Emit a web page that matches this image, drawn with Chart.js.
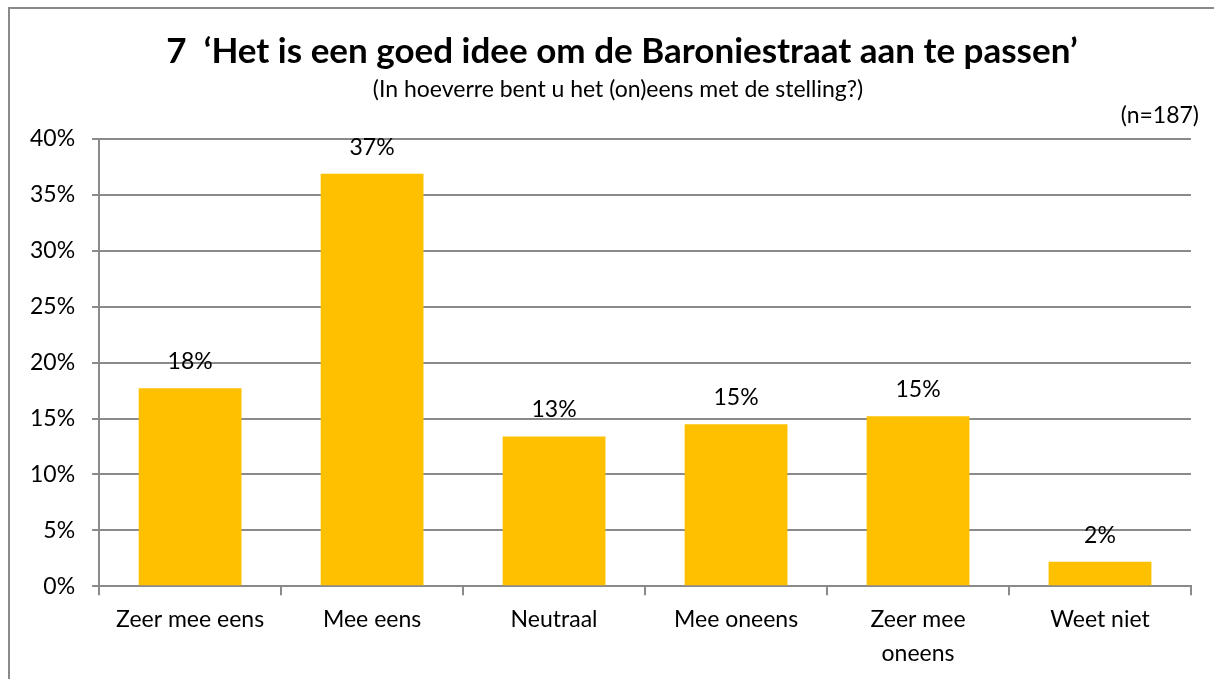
<!DOCTYPE html>
<html>
<head>
<meta charset="utf-8">
<script src="https://cdn.jsdelivr.net/npm/chart.js@4/dist/chart.umd.min.js"></script>
<style>
  body { margin: 0; background: #fff; overflow: hidden; }
  #frame { position: absolute; left: 8px; top: 7px; width: 1300px; height: 800px; border: 2px solid #8a8a8a; }
  #chart { position: absolute; left: 0; top: 0; }
</style>
</head>
<body>
<div id="frame"></div>
<canvas id="chart" width="1214" height="679"></canvas>
<script>
// data
const categories = ["Zeer mee eens", "Mee eens", "Neutraal", "Mee oneens", ["Zeer mee", "oneens"], "Weet niet"];
const percentages = [17.7, 36.9, 13.4, 14.5, 15.2, 2.2];
const valueLabels = ["18%", "37%", "13%", "15%", "15%", "2%"];
const yTicks = [0, 5, 10, 15, 20, 25, 30, 35, 40];

const titleText = "7  \u2018Het is een goed idee om de Baroniestraat aan te passen\u2019";
const subtitleText = "(In hoeverre bent u het (on)eens met de stelling?)";
const sampleText = "(n=187)";

const FONT = "Lato, 'Open Sans', sans-serif";

// titles, n and value labels
const textPlugin = {
  id: "texts",
  afterDatasetsDraw(chart) {
    const ctx = chart.ctx;
    ctx.save();
    ctx.fillStyle = "#000";
    ctx.textAlign = "center";
    ctx.textBaseline = "middle";
    ctx.font = "bold 35px " + FONT;
    ctx.fillText(titleText, 622, 52);
    ctx.font = "23px " + FONT;
    ctx.fillText(subtitleText, 618, 90);
    ctx.textAlign = "right";
    ctx.fillText(sampleText, 1199, 116);

    const meta = chart.getDatasetMeta(0);
    ctx.textAlign = "center";
    ctx.textBaseline = "bottom";
    ctx.font = "23px " + FONT;
    meta.data.forEach((bar, i) => {
      ctx.fillText(valueLabels[i], bar.x, bar.y - 15);
    });
    ctx.restore();
  }
};

new Chart(document.getElementById("chart"), {
  type: "bar",
  data: {
    labels: categories,
    datasets: [
      {
        data: percentages,
        backgroundColor: "#FFC000",
        borderWidth: 0,
        barPercentage: 0.565,
        categoryPercentage: 1.0,
      },
    ],
  },
  options: {
    responsive: false,
    animation: false,
    devicePixelRatio: 1,
    layout: { padding: { top: 139, right: 23, left: 13, bottom: 1 } },
    plugins: {
      legend: { display: false },
      tooltip: { enabled: false },
      title: { display: false },
    },
    scales: {
      x: {
        grid: {
          offset: true,
          drawOnChartArea: false,
          drawTicks: true,
          tickLength: 9,
          color: "#8a8a8a",
          lineWidth: 2,
        },
        border: { color: "#8a8a8a", width: 2 },
        ticks: {
          color: "#000",
          font: { family: FONT, size: 23, lineHeight: 1.45 },
          padding: 8,
          maxRotation: 0,
        },
      },
      y: {
        min: 0,
        max: 40,
        afterBuildTicks(axis) {
          axis.ticks = yTicks.map((v) => ({ value: v }));
        },
        grid: { color: "#8a8a8a", lineWidth: 2, tickLength: 7 },
        border: { color: "#8a8a8a", width: 2 },
        ticks: {
          color: "#000",
          font: { family: FONT, size: 23 },
          padding: 17,
          callback: (v) => v + "%",
        },
      },
    },
  },
  plugins: [textPlugin],
});
</script>
</body>
</html>
